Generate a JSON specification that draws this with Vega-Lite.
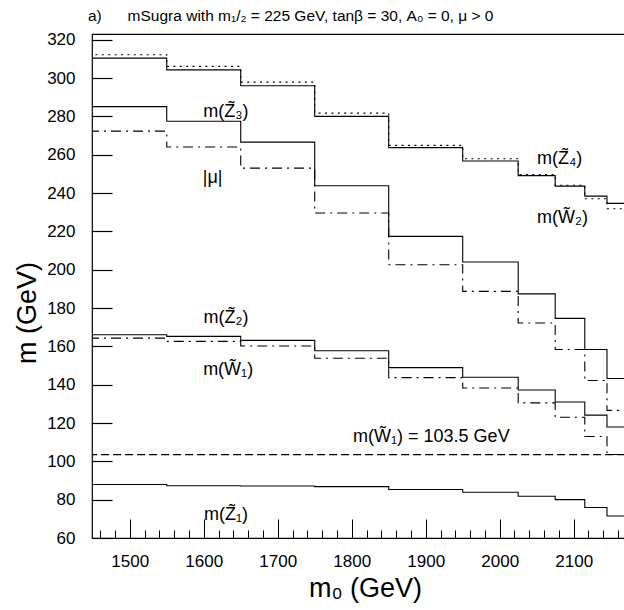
{
  "$schema": "https://vega.github.io/schema/vega-lite/v6.json",
  "width": 532,
  "height": 504,
  "autosize": {"type": "none"},
  "padding": {"left": 92, "top": 34, "right": 0, "bottom": 72},
  "background": "white",
  "config": {"view": {"stroke": "black", "strokeWidth": 1.2, "strokeDash": [532, 504, 1036, 0]}, "font": "Liberation Sans"},
  "title": {
    "text": "a)\u00a0\u00a0\u00a0\u00a0\u00a0\u00a0mSugra with m\u2081/\u2082 = 225 GeV, tan\u03b2 = 30, A\u2080 = 0, \u03bc > 0",
    "anchor": "start", "frame": "group", "dx": -4, "dy": 16, "offset": 10, "baseline": "alphabetic",
    "fontSize": 15.5, "fontWeight": "normal", "font": "Liberation Sans", "color": "black"
  },
  "datasets": {
    "lines": [
      {"s": "Z4", "x": 1445, "m": 312.2}, {"s": "Z4", "x": 1550, "m": 306.1}, {"s": "Z4", "x": 1650, "m": 297.9}, {"s": "Z4", "x": 1750, "m": 281.7}, {"s": "Z4", "x": 1850, "m": 264.9}, {"s": "Z4", "x": 1950, "m": 257.9}, {"s": "Z4", "x": 2025, "m": 249.6}, {"s": "Z4", "x": 2075, "m": 244.1}, {"s": "Z4", "x": 2115, "m": 237.0}, {"s": "Z4", "x": 2145, "m": 231.8}, {"s": "Z4", "x": 2170, "m": 231.8},
      {"s": "W2", "x": 1445, "m": 310.4}, {"s": "W2", "x": 1550, "m": 304.3}, {"s": "W2", "x": 1650, "m": 296.0}, {"s": "W2", "x": 1750, "m": 280.0}, {"s": "W2", "x": 1850, "m": 263.7}, {"s": "W2", "x": 1950, "m": 256.7}, {"s": "W2", "x": 2025, "m": 249.1}, {"s": "W2", "x": 2075, "m": 243.6}, {"s": "W2", "x": 2115, "m": 238.4}, {"s": "W2", "x": 2145, "m": 234.6}, {"s": "W2", "x": 2170, "m": 234.6},
      {"s": "Z3", "x": 1445, "m": 285.1}, {"s": "Z3", "x": 1550, "m": 277.5}, {"s": "Z3", "x": 1650, "m": 266.6}, {"s": "Z3", "x": 1750, "m": 243.8}, {"s": "Z3", "x": 1850, "m": 217.4}, {"s": "Z3", "x": 1950, "m": 204.0}, {"s": "Z3", "x": 2025, "m": 187.4}, {"s": "Z3", "x": 2075, "m": 174.6}, {"s": "Z3", "x": 2115, "m": 158.4}, {"s": "Z3", "x": 2145, "m": 143.2}, {"s": "Z3", "x": 2170, "m": 143.2},
      {"s": "mu", "x": 1445, "m": 272.3}, {"s": "mu", "x": 1550, "m": 264.0}, {"s": "mu", "x": 1650, "m": 253.0}, {"s": "mu", "x": 1750, "m": 229.6}, {"s": "mu", "x": 1850, "m": 202.6}, {"s": "mu", "x": 1950, "m": 188.7}, {"s": "mu", "x": 2025, "m": 172.2}, {"s": "mu", "x": 2075, "m": 158.4}, {"s": "mu", "x": 2115, "m": 142.2}, {"s": "mu", "x": 2145, "m": 126.6}, {"s": "mu", "x": 2170, "m": 126.6},
      {"s": "Z2", "x": 1445, "m": 166.1}, {"s": "Z2", "x": 1550, "m": 165.2}, {"s": "Z2", "x": 1650, "m": 163.1}, {"s": "Z2", "x": 1750, "m": 157.7}, {"s": "Z2", "x": 1850, "m": 148.9}, {"s": "Z2", "x": 1950, "m": 143.9}, {"s": "Z2", "x": 2025, "m": 137.2}, {"s": "Z2", "x": 2075, "m": 131.0}, {"s": "Z2", "x": 2115, "m": 124.1}, {"s": "Z2", "x": 2145, "m": 117.9}, {"s": "Z2", "x": 2170, "m": 117.9},
      {"s": "W1", "x": 1445, "m": 164.3}, {"s": "W1", "x": 1550, "m": 162.6}, {"s": "W1", "x": 1650, "m": 160.2}, {"s": "W1", "x": 1750, "m": 153.8}, {"s": "W1", "x": 1850, "m": 143.7}, {"s": "W1", "x": 1950, "m": 138.3}, {"s": "W1", "x": 2025, "m": 130.5}, {"s": "W1", "x": 2075, "m": 123.0}, {"s": "W1", "x": 2115, "m": 113.0}, {"s": "W1", "x": 2145, "m": 103.6}, {"s": "W1", "x": 2170, "m": 103.6},
      {"s": "Z1", "x": 1445, "m": 87.9}, {"s": "Z1", "x": 1550, "m": 87.3}, {"s": "Z1", "x": 1650, "m": 87.1}, {"s": "Z1", "x": 1750, "m": 86.8}, {"s": "Z1", "x": 1850, "m": 85.3}, {"s": "Z1", "x": 1950, "m": 83.9}, {"s": "Z1", "x": 2025, "m": 81.8}, {"s": "Z1", "x": 2075, "m": 80.0}, {"s": "Z1", "x": 2115, "m": 75.9}, {"s": "Z1", "x": 2145, "m": 71.5}, {"s": "Z1", "x": 2170, "m": 71.5},
      {"s": "lim", "x": 1445, "m": 103.5}, {"s": "lim", "x": 2170, "m": 103.5}
    ],
    "labels": [
      {"t": "m(Z\u0303\u2083)", "x": 1630, "m": 282.2},
      {"t": "|\u03bc|", "x": 1612, "m": 247.6},
      {"t": "m(Z\u0303\u2084)", "x": 2081, "m": 258},
      {"t": "m(W\u0303\u2082)", "x": 2085, "m": 226.8},
      {"t": "m(Z\u0303\u2082)", "x": 1630, "m": 174.6},
      {"t": "m(W\u0303\u2081)", "x": 1633, "m": 147.5},
      {"t": "m(W\u0303\u2081) = 103.5 GeV", "x": 1907.6, "m": 112.7},
      {"t": "m(Z\u0303\u2081)", "x": 1630, "m": 71.8}
    ]
  },
  "encoding": {
    "x": {
      "field": "x", "type": "quantitative",
      "scale": {"domain": [1449, 2168], "nice": false, "zero": false},
      "axis": {
        "orient": "bottom",
        "values": [1460, 1480, 1500, 1520, 1540, 1560, 1580, 1600, 1620, 1640, 1660, 1680, 1700, 1720, 1740, 1760, 1780, 1800, 1820, 1840, 1860, 1880, 1900, 1920, 1940, 1960, 1980, 2000, 2020, 2040, 2060, 2080, 2100, 2120, 2140, 2160],
        "format": "d",
        "labelExpr": "datum.value % 100 === 0 ? datum.label : ''",
        "ticks": true,
        "tickSize": {"condition": {"test": "datum.value % 100 === 0", "value": -19}, "value": -8},
        "labelPadding": 34,
        "labelFontSize": 17, "labelColor": "black", "labelFont": "Liberation Sans",
        "tickColor": "black", "tickWidth": 1, "domainColor": "black", "domainWidth": 1.2,
        "grid": false, "labelFlush": false, "labelOverlap": false,
        "title": "m\u2080 (GeV)", "titleFontSize": 27, "titleFontWeight": "normal", "titleColor": "black",
        "titleFont": "Liberation Sans", "titleX": 273, "titleY": 58, "titleBaseline": "alphabetic", "titleAlign": "center"
      }
    },
    "y": {
      "field": "m", "type": "quantitative",
      "scale": {"domain": [60, 323], "nice": false, "zero": false},
      "axis": {
        "orient": "left",
        "offset": -20,
        "domain": false,
        "values": [60, 80, 100, 120, 140, 160, 180, 200, 220, 240, 260, 280, 300, 320],
        "ticks": true,
        "tickSize": 20,
        "labelPadding": 17,
        "labelFontSize": 17, "labelColor": "black", "labelFont": "Liberation Sans",
        "tickColor": "black", "tickWidth": 1.2,
        "grid": false, "labelFlush": false, "labelOverlap": false,
        "title": "m (GeV)", "titleFontSize": 27, "titleFontWeight": "normal", "titleColor": "black",
        "titleFont": "Liberation Sans", "titleX": -77, "titleY": 278.5, "titleAngle": -90,
        "titleBaseline": "alphabetic", "titleAlign": "center"
      }
    }
  },
  "layer": [
    {
      "data": {"name": "lines"},
      "mark": {"type": "line", "interpolate": "step-after", "clip": true, "strokeWidth": 1.1, "color": "black"},
      "encoding": {
        "strokeDash": {
          "field": "s", "type": "nominal",
          "scale": {
            "domain": ["Z4", "W2", "Z3", "mu", "Z2", "W1", "Z1", "lim"],
            "range": [[2, 4.4], [1, 0], [1, 0], [10, 5, 2, 5], [1, 0], [10, 5, 2, 5], [1, 0], [8, 4]]
          },
          "legend": null
        }
      }
    },
    {
      "data": {"name": "labels"},
      "mark": {"type": "text", "fontSize": 18, "font": "Liberation Sans", "color": "black", "align": "center", "baseline": "middle"},
      "encoding": {
        "text": {"field": "t"}
      }
    }
  ]
}
